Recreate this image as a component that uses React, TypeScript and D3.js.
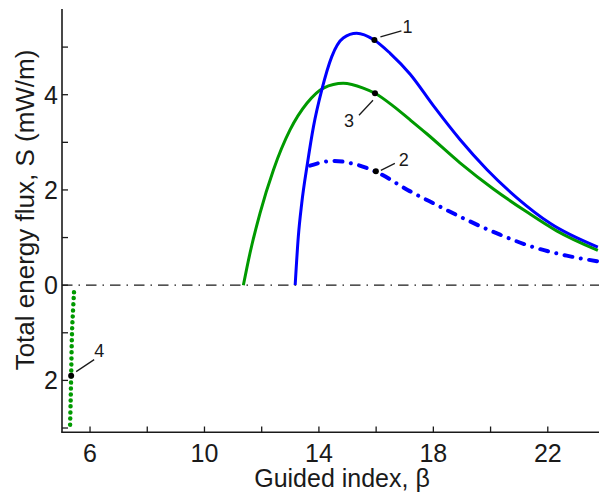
import * as d3 from "d3";
import React from "react";

// curve 1: blue solid
const beta1 = [13.17, 13.28, 13.4, 13.6, 13.81, 14.1, 14.45, 14.85, 15.32, 15.93, 16.49, 17.19, 18.0, 18.93, 19.87, 20.91, 22.08, 23.75];
const flux1 = [0, 1.02, 1.72, 2.56, 3.33, 4.1, 4.8, 5.19, 5.29, 5.15, 4.87, 4.43, 3.77, 3.06, 2.43, 1.84, 1.3, 0.8];

// curve 2: blue dash-dot
const beta2 = [13.69, 14.5, 15.2, 15.96, 17.19, 18.0, 19.17, 20.33, 21.49, 22.66, 23.75];
const flux2 = [2.51, 2.61, 2.55, 2.39, 1.97, 1.72, 1.37, 1.06, 0.8, 0.62, 0.5];

// curve 3: green solid
const beta3 = [11.36, 11.59, 11.94, 12.41, 12.99, 13.58, 14.16, 14.85, 15.55, 15.96, 16.6, 17.19, 17.77, 18.93, 20.1, 21.26, 22.31, 23.75];
const flux3 = [0, 0.67, 1.51, 2.42, 3.26, 3.82, 4.14, 4.24, 4.14, 4.03, 3.76, 3.47, 3.18, 2.57, 2.02, 1.54, 1.14, 0.73];

// curve 4: green dotted (negative flux)
const beta4 = [5.44, 5.4, 5.37, 5.34, 5.32, 5.3];
const flux4 = [-0.15, -0.6, -1.0, -1.9, -2.5, -3.0];

// labelled points
const markLabels = ["1", "2", "3", "4"];
const markBeta = [15.94, 15.99, 15.96, 5.34];
const markFlux = [5.15, 2.39, 4.03, -1.9];

const xMajor = [6, 10, 14, 18, 22];
const xMinor = [8, 12, 16, 20];
const yMajor = [4, 2, 0, -2];
const yMinor = [5, 3, 1, -1, -3];

const W = 599;
const H = 496;
const font = "'Liberation Sans', Arial, sans-serif";
const ink = "#1a1a1a";
const blue = "#0000ff";
const green = "#009a00";

const x = d3.scaleLinear().domain([5.02, 23.79]).range([62, 599]);
const y = d3.scaleLinear().domain([-3.09, 5.8]).range([432.3, 9]);

const zip = (b: number[], f: number[]) => b.map((v, i) => [v, f[i]] as [number, number]);

const smooth = d3.line<[number, number]>()
  .x(d => x(d[0]))
  .y(d => y(d[1]))
  .curve(d3.curveMonotoneX);

const vertical = d3.line<[number, number]>()
  .x(d => x(d[0]))
  .y(d => y(d[1]))
  .curve(d3.curveCatmullRom);

// leader line / label offsets relative to each marker (px)
const leader = [
  { l: [6, -3, 27, -9], t: [28, -7] },
  { l: [5, -1, 19, -8], t: [23, -5] },
  { l: [-2, 7, -16, 22], t: [-31, 34] },
  { l: [5, -4, 23, -16], t: [23, -19] },
];

export default function App() {
  return (
    <svg width={W} height={H} style={{ position: "absolute", left: 0, top: 0, background: "#fff" }}>
      {/* zero line */}
      <line x1={x(5.02)} x2={W} y1={y(0)} y2={y(0)} stroke={ink} strokeWidth={1.4}
        strokeDasharray="10.5 6 1.5 6" />

      {/* curves */}
      <path d={smooth(zip(beta3, flux3)) ?? ""} fill="none" stroke={green} strokeWidth={3} />
      <path d={smooth(zip(beta1, flux1)) ?? ""} fill="none" stroke={blue} strokeWidth={3} />
      <path d={smooth(zip(beta2, flux2)) ?? ""} fill="none" stroke={blue} strokeWidth={4}
        strokeLinecap="round" strokeDasharray="8 8.5 0.01 8.5" />
      <path d={vertical(zip(beta4, flux4)) ?? ""} fill="none" stroke={green} strokeWidth={4.5}
        strokeLinecap="round" strokeDasharray="0.01 6" />

      {/* markers and labels */}
      {markLabels.map((lab, i) => {
        const cx = x(markBeta[i]);
        const cy = y(markFlux[i]);
        const o = leader[i];
        return (
          <g key={lab}>
            <line x1={cx + o.l[0]} y1={cy + o.l[1]} x2={cx + o.l[2]} y2={cy + o.l[3]} stroke={ink} strokeWidth={1.3} />
            <circle cx={cx} cy={cy} r={3} fill="#000" />
            <text x={cx + o.t[0]} y={cy + o.t[1]} fontSize={18} fontFamily={font} fill={ink}>{lab}</text>
          </g>
        );
      })}

      {/* axes */}
      <line x1={62} x2={62} y1={9} y2={432.3} stroke={ink} strokeWidth={1.6} />
      <line x1={61.2} x2={W} y1={432.3} y2={432.3} stroke={ink} strokeWidth={1.6} />
      {[...yMajor, ...yMinor].map(v => (
        <line key={"yt" + v} x1={62} x2={68} y1={y(v)} y2={y(v)} stroke={ink} strokeWidth={1.3} />
      ))}
      {[...xMajor, ...xMinor].map(v => (
        <line key={"xt" + v} x1={x(v)} x2={x(v)} y1={432.3} y2={426.5} stroke={ink} strokeWidth={1.3} />
      ))}
      {yMajor.map(v => (
        <text key={"yl" + v} x={58} y={y(v) + 9} fontSize={25} fontFamily={font} fill={ink} textAnchor="end">
          {Math.abs(v)}
        </text>
      ))}
      {xMajor.map(v => (
        <text key={"xl" + v} x={x(v)} y={461.5} fontSize={25} fontFamily={font} fill={ink} textAnchor="middle">
          {v}
        </text>
      ))}

      <text x={342} y={487} fontSize={25} fontFamily={font} fill={ink} textAnchor="middle">
        Guided index, β
      </text>
      <text transform="translate(33.5,210) rotate(-90)" fontSize={26} fontFamily={font} fill={ink} textAnchor="middle">
        Total energy flux, S (mW/m)
      </text>
    </svg>
  );
}
